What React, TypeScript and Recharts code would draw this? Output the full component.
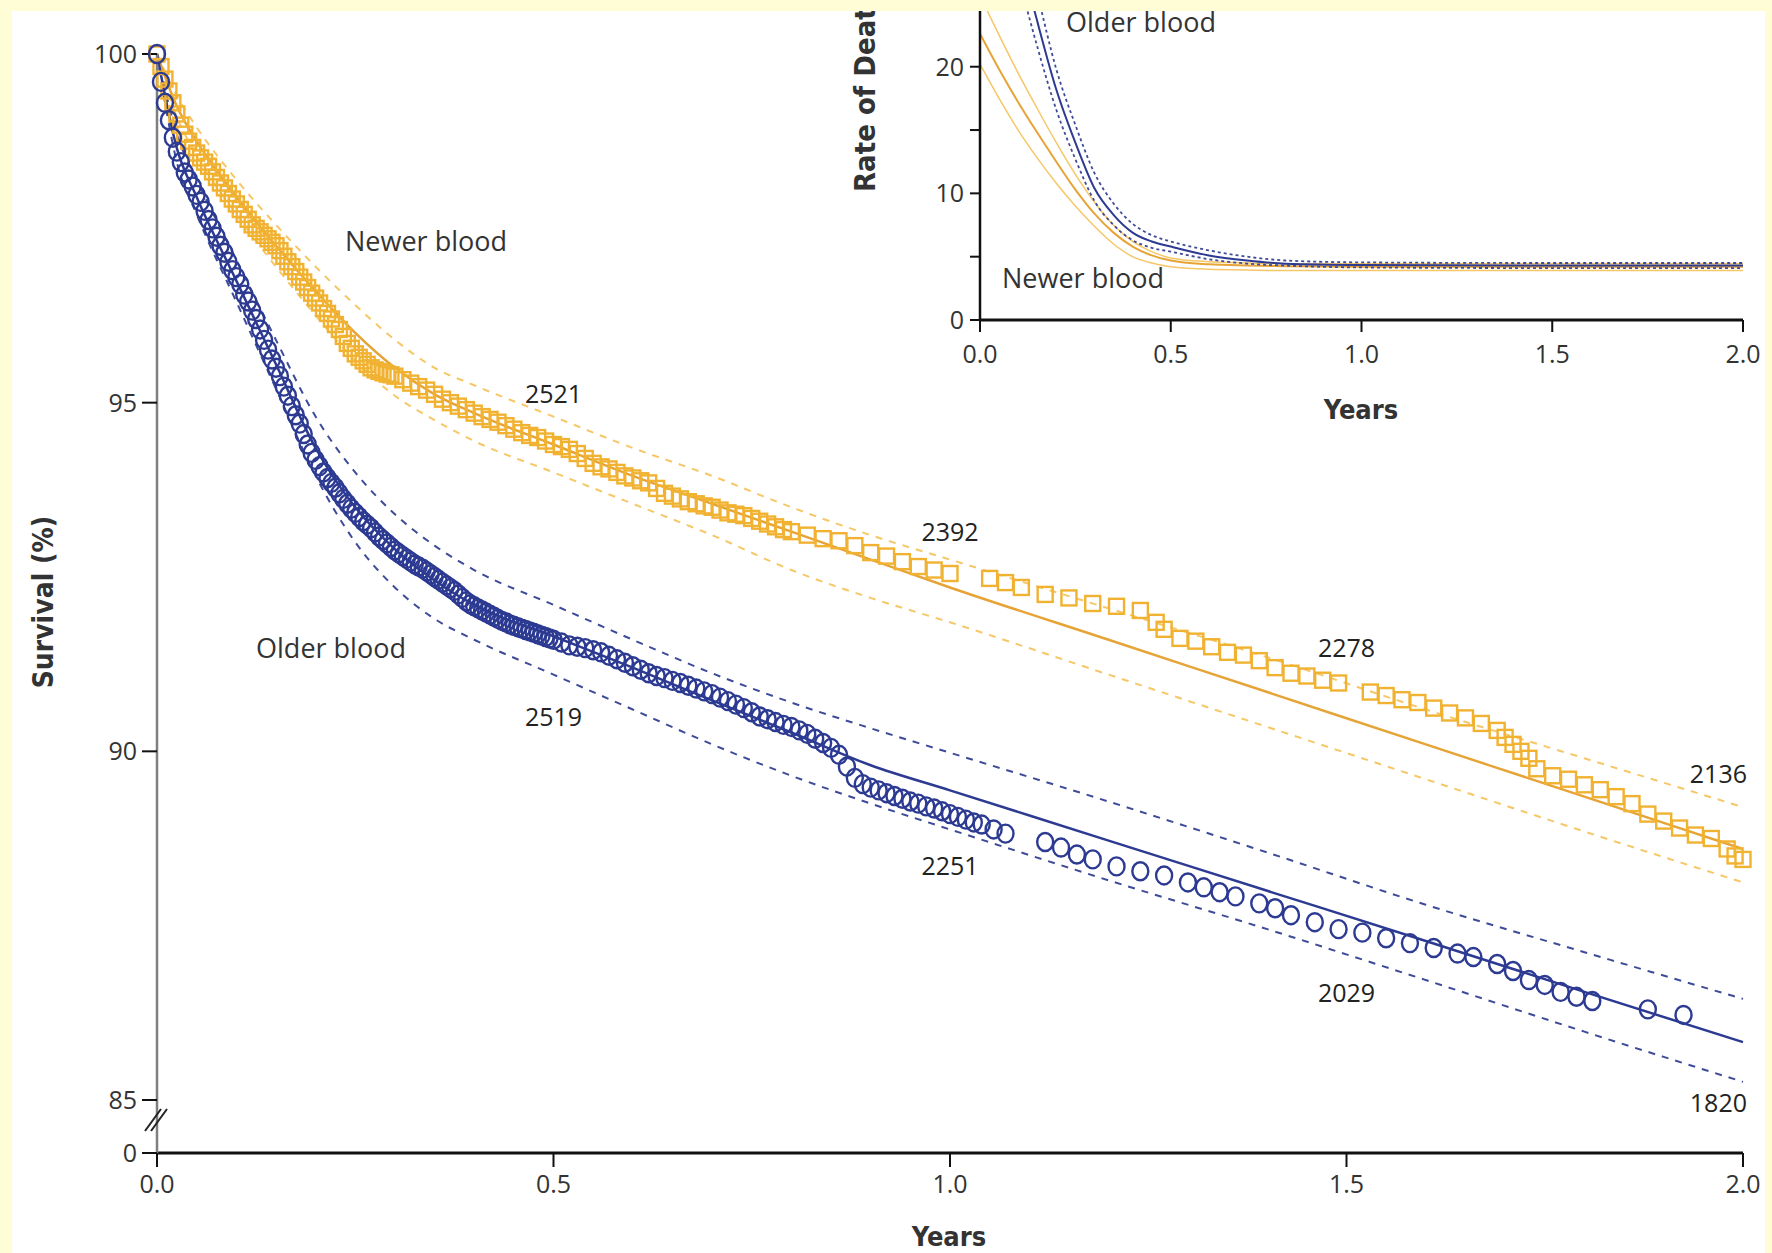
import { ComposedChart, Line, Scatter, XAxis, YAxis } from "recharts";

// ---- main panel: fitted survival curves with 95% bands ----
const fitT = [0, 0.025, 0.05, 0.1, 0.15, 0.2, 0.25, 0.3, 0.35, 0.4, 0.5, 0.6, 0.7, 0.8, 0.9, 1.0, 1.2, 1.4, 1.6, 1.8, 2.0];
const newerFit = [100, 99.25, 98.75, 97.95, 97.25, 96.6, 96.0, 95.5, 95.12, 94.85, 94.4, 93.95, 93.55, 93.15, 92.75, 92.35, 91.6, 90.85, 90.1, 89.35, 88.6];
const newerHigh = [100, 99.4, 98.95, 98.2, 97.55, 96.95, 96.4, 95.9, 95.5, 95.25, 94.8, 94.35, 93.95, 93.5, 93.1, 92.75, 92.05, 91.35, 90.6, 89.9, 89.2];
const newerLow = [100, 99.1, 98.55, 97.7, 96.95, 96.25, 95.6, 95.1, 94.75, 94.45, 94.0, 93.55, 93.1, 92.6, 92.2, 91.85, 91.1, 90.35, 89.6, 88.85, 88.12];
const olderFit = [100, 98.65, 97.95, 96.75, 95.55, 94.35, 93.5, 92.9, 92.45, 92.1, 91.65, 91.2, 90.73, 90.27, 89.8, 89.44, 88.72, 88.0, 87.28, 86.55, 85.83];
const olderHigh = [100, 98.85, 98.2, 97.05, 95.9, 94.8, 94.0, 93.4, 92.95, 92.6, 92.1, 91.6, 91.12, 90.7, 90.33, 89.98, 89.28, 88.55, 87.8, 87.12, 86.45];
const olderLow = [100, 98.45, 97.7, 96.45, 95.2, 93.95, 93.0, 92.35, 91.9, 91.6, 91.1, 90.6, 90.1, 89.65, 89.25, 88.88, 88.15, 87.45, 86.72, 85.98, 85.26];

// Kaplan-Meier estimates (markers)
const newerMarkT = [
  0, 0.005, 0.01, 0.015, 0.02, 0.025, 0.03, 0.035, 0.04, 0.045, 0.05, 0.055, 0.06, 0.065, 0.07, 0.075, 0.08, 0.085, 0.09, 0.095,
  0.1, 0.105, 0.11, 0.115, 0.12, 0.125, 0.13, 0.135, 0.14, 0.145, 0.15, 0.155, 0.16, 0.165, 0.17, 0.175, 0.18, 0.185, 0.19, 0.195,
  0.2, 0.205, 0.21, 0.215, 0.22, 0.225, 0.23, 0.235, 0.24, 0.245, 0.25, 0.255, 0.26, 0.265, 0.27, 0.275, 0.28, 0.285, 0.29, 0.295,
  0.3, 0.31, 0.32, 0.33, 0.34, 0.35, 0.36, 0.37, 0.38, 0.39, 0.4, 0.41, 0.42, 0.43, 0.44, 0.45, 0.46, 0.47, 0.48, 0.49,
  0.5, 0.51, 0.52, 0.53, 0.54, 0.55, 0.56, 0.57, 0.58, 0.59, 0.6, 0.61, 0.62, 0.63, 0.64, 0.65, 0.66, 0.67, 0.68, 0.69,
  0.7, 0.71, 0.72, 0.73, 0.74, 0.75, 0.76, 0.77, 0.78, 0.79, 0.8, 0.82, 0.84, 0.86, 0.88, 0.9, 0.92, 0.94, 0.96, 0.98,
  1.0, 1.05, 1.07, 1.09, 1.12, 1.15, 1.18, 1.21, 1.24, 1.26, 1.27, 1.29, 1.31, 1.33, 1.35, 1.37, 1.39, 1.41, 1.43, 1.45,
  1.47, 1.49, 1.53, 1.55, 1.57, 1.59, 1.61, 1.63, 1.65, 1.67, 1.69, 1.7, 1.71, 1.72, 1.73, 1.74, 1.76, 1.78, 1.8, 1.82,
  1.84, 1.86, 1.88, 1.9, 1.92, 1.94, 1.96, 1.98, 1.99, 2.0,
];
const newerMarkS = [
  100, 99.82, 99.64, 99.47, 99.3, 99.14, 98.98, 98.85, 98.75, 98.66, 98.58, 98.51, 98.45, 98.39, 98.31, 98.23, 98.15, 98.08, 98.0, 97.92,
  97.85, 97.77, 97.7, 97.63, 97.55, 97.5, 97.45, 97.4, 97.35, 97.3, 97.25, 97.18, 97.1, 97.02, 96.95, 96.88, 96.8, 96.73, 96.65, 96.57,
  96.5, 96.43, 96.35, 96.28, 96.2, 96.12, 96.05, 95.95, 95.85, 95.78, 95.7, 95.65, 95.6, 95.55, 95.5, 95.47, 95.45, 95.43, 95.41, 95.4,
  95.38, 95.33, 95.28, 95.23, 95.18, 95.12, 95.05, 95.0, 94.95, 94.9, 94.85, 94.8, 94.76, 94.72, 94.67, 94.62, 94.57, 94.53, 94.5, 94.45,
  94.4, 94.37, 94.33, 94.27, 94.2, 94.13, 94.08, 94.05, 94.0, 93.95, 93.92, 93.88, 93.85, 93.77, 93.7, 93.66, 93.62, 93.58, 93.55, 93.52,
  93.5, 93.46, 93.42, 93.4, 93.38, 93.34, 93.3, 93.26, 93.22, 93.18, 93.15, 93.1, 93.05, 93.02, 92.95, 92.85, 92.8, 92.72, 92.65, 92.6,
  92.55, 92.48, 92.42, 92.35, 92.25, 92.2, 92.12, 92.08, 92.02, 91.85, 91.75, 91.62, 91.58, 91.5, 91.42, 91.38, 91.3, 91.2, 91.12, 91.08,
  91.02, 90.98, 90.85, 90.8, 90.74, 90.7, 90.62, 90.55, 90.48, 90.4, 90.3, 90.2, 90.1, 90.0, 89.9, 89.75, 89.65, 89.6, 89.52, 89.45,
  89.35, 89.25, 89.1, 89.0, 88.9, 88.8, 88.75, 88.6, 88.5, 88.45,
];
const olderMarkT = [
  0, 0.005, 0.01, 0.015, 0.02, 0.025, 0.03, 0.035, 0.04, 0.045, 0.05, 0.055, 0.06, 0.065, 0.07, 0.075, 0.08, 0.085, 0.09, 0.095,
  0.1, 0.105, 0.11, 0.115, 0.12, 0.125, 0.13, 0.135, 0.14, 0.145, 0.15, 0.155, 0.16, 0.165, 0.17, 0.175, 0.18, 0.185, 0.19, 0.195,
  0.2, 0.205, 0.21, 0.215, 0.22, 0.225, 0.23, 0.235, 0.24, 0.245, 0.25, 0.255, 0.26, 0.265, 0.27, 0.275, 0.28, 0.285, 0.29, 0.295,
  0.3, 0.305, 0.31, 0.315, 0.32, 0.325, 0.33, 0.335, 0.34, 0.345, 0.35, 0.355, 0.36, 0.365, 0.37, 0.375, 0.38, 0.385, 0.39, 0.395,
  0.4, 0.405, 0.41, 0.415, 0.42, 0.425, 0.43, 0.435, 0.44, 0.445, 0.45, 0.455, 0.46, 0.465, 0.47, 0.475, 0.48, 0.485, 0.49, 0.495,
  0.5, 0.51, 0.52, 0.53, 0.54, 0.55, 0.56, 0.57, 0.58, 0.59, 0.6, 0.61, 0.62, 0.63, 0.64, 0.65, 0.66, 0.67, 0.68, 0.69,
  0.7, 0.71, 0.72, 0.73, 0.74, 0.75, 0.76, 0.77, 0.78, 0.79, 0.8, 0.81, 0.82, 0.83, 0.84, 0.85, 0.86, 0.87, 0.88, 0.89,
  0.9, 0.91, 0.92, 0.93, 0.94, 0.95, 0.96, 0.97, 0.98, 0.99, 1.0, 1.01, 1.02, 1.03, 1.04, 1.055, 1.07, 1.12, 1.14, 1.16,
  1.18, 1.21, 1.24, 1.27, 1.3, 1.32, 1.34, 1.36, 1.39, 1.41, 1.43, 1.46, 1.49, 1.52, 1.55, 1.58, 1.61, 1.64, 1.66, 1.69,
  1.71, 1.73, 1.75, 1.77, 1.79, 1.81, 1.88, 1.925,
];
const olderMarkS = [
  100, 99.6, 99.3, 99.05, 98.8, 98.6, 98.45, 98.3, 98.2, 98.1, 97.98, 97.88, 97.75, 97.62, 97.5, 97.38, 97.25, 97.15, 97.02, 96.9,
  96.8, 96.7, 96.55, 96.45, 96.32, 96.2, 96.05, 95.9, 95.76, 95.62, 95.5, 95.38, 95.23, 95.1, 94.95, 94.82, 94.7, 94.55, 94.4, 94.28,
  94.18, 94.09, 94.0, 93.92, 93.85, 93.78, 93.7, 93.62, 93.55, 93.48, 93.42, 93.36, 93.3, 93.25, 93.2, 93.14, 93.08, 93.03, 92.98, 92.93,
  92.88, 92.84, 92.8, 92.76, 92.72, 92.68, 92.65, 92.62, 92.58, 92.54, 92.5, 92.46, 92.42, 92.38, 92.34, 92.3, 92.25, 92.2, 92.15, 92.11,
  92.08, 92.05, 92.02, 91.99, 91.96, 91.93, 91.9, 91.87, 91.85, 91.82, 91.8, 91.78, 91.76, 91.74, 91.72, 91.7, 91.68, 91.66, 91.64, 91.62,
  91.6, 91.56, 91.52, 91.5, 91.48, 91.45, 91.42, 91.37, 91.32, 91.27, 91.22, 91.17, 91.12, 91.08, 91.05, 91.01, 90.98, 90.94, 90.9, 90.86,
  90.82, 90.77, 90.72, 90.67, 90.62, 90.56, 90.5, 90.46, 90.42, 90.38, 90.35, 90.3, 90.25, 90.18, 90.12, 90.05, 89.95, 89.78, 89.62, 89.53,
  89.48, 89.44, 89.4, 89.36, 89.32, 89.28, 89.25, 89.21, 89.18, 89.14, 89.1, 89.06, 89.02, 88.98, 88.95, 88.88, 88.82, 88.7, 88.62, 88.52,
  88.45, 88.35, 88.28, 88.22, 88.12, 88.05, 87.98, 87.92, 87.82, 87.75, 87.65, 87.55, 87.45, 87.4, 87.32, 87.25, 87.18, 87.1, 87.05, 86.95,
  86.85, 86.72, 86.65, 86.55, 86.48, 86.42, 86.3, 86.22,
];

// numbers at risk
const riskT = [0.5, 1.0, 1.5, 2.0];
const riskNewer = [2521, 2392, 2278, 2136];
const riskOlder = [2519, 2251, 2029, 1820];

const xTicks = [0, 0.5, 1.0, 1.5, 2.0];
const survTicks = [85, 90, 95, 100];

// ---- inset: rate of death ----
const rateT = [0, 0.05, 0.1, 0.15, 0.2, 0.25, 0.3, 0.35, 0.4, 0.45, 0.5, 0.6, 0.7, 0.8, 1.0, 1.5, 2.0];
const newerRate = [22.6, 19.8, 17.2, 14.8, 12.5, 10.3, 8.4, 6.9, 5.8, 5.1, 4.7, 4.4, 4.3, 4.25, 4.2, 4.2, 4.2];
const newerRateHigh = [25.6, 22.5, 19.5, 16.7, 14.0, 11.5, 9.3, 7.5, 6.2, 5.4, 4.9, 4.6, 4.5, 4.45, 4.45, 4.45, 4.45];
const newerRateLow = [20.2, 17.5, 15.0, 12.8, 10.8, 9.0, 7.4, 6.0, 5.0, 4.5, 4.2, 4.0, 3.95, 3.9, 3.9, 3.9, 3.9];
const olderRate = [44, 36.5, 29.5, 23.6, 18.2, 14.0, 10.4, 8.3, 6.9, 6.2, 5.8, 5.1, 4.7, 4.45, 4.35, 4.3, 4.3];
const olderRateHigh = [47, 39, 32, 25.8, 19.8, 15.4, 11.6, 9.2, 7.6, 6.7, 6.2, 5.5, 5.0, 4.7, 4.55, 4.5, 4.5];
const olderRateLow = [41, 34, 27.3, 21.6, 16.6, 12.7, 9.4, 7.5, 6.3, 5.7, 5.4, 4.8, 4.45, 4.3, 4.15, 4.1, 4.1];
const rateTicks = [0, 5, 10, 15, 20];

const ORANGE = "#F1B232";
const ORANGE_LIGHT = "#F6C766";
const ORANGE_DARK = "#E6A437";
const BLUE = "#2C3A92";
const BLUE_DASH = "#3E4B98";
const YELLOW = "#FEFDD6";
const NUM_FONT = "'Open Sans', 'Noto Sans', sans-serif";
const TITLE_FONT = "'Liberation Sans Narrow', 'DejaVu Sans Condensed', 'Liberation Sans', sans-serif";

const SURV_FLOOR = 84.24; // bottom of broken axis, labelled "0"

const fitRows = fitT.map((t, i) => ({
  t,
  nFit: newerFit[i],
  nHi: newerHigh[i],
  nLo: newerLow[i],
  oFit: olderFit[i],
  oHi: olderHigh[i],
  oLo: olderLow[i],
}));
const newerMarks = newerMarkT.map((t, i) => ({ t, s: newerMarkS[i] }));
const olderMarks = olderMarkT.map((t, i) => ({ t, s: olderMarkS[i] }));
// vertical placement of the at-risk numbers (survival units)
const newerRiskY = [95.14, 93.16, 91.5, 89.69];
const olderRiskY = [90.51, 88.37, 86.55, 84.97];
const riskRows = [
  ...riskT.map((t, i) => ({ t, s: newerRiskY[i], n: riskNewer[i] })),
  ...riskT.map((t, i) => ({ t, s: olderRiskY[i], n: riskOlder[i] })),
];
const rateRows = rateT.map((t, i) => ({
  t,
  nFit: newerRate[i],
  nHi: newerRateHigh[i],
  nLo: newerRateLow[i],
  oFit: olderRate[i],
  oHi: olderRateHigh[i],
  oLo: olderRateLow[i],
}));

const Square = (p: any) => (
  <rect x={p.cx - 7.5} y={p.cy - 7.5} width={15} height={15} fill="none" stroke={ORANGE} strokeWidth={2.4} />
);
const Ring = (p: any) => (
  <ellipse cx={p.cx} cy={p.cy} rx={8} ry={9} fill="none" stroke={BLUE} strokeWidth={2.4} />
);
const RiskLabel = (p: any) => {
  const last = p.payload.t >= 2;
  return (
    <text
      x={p.cx + (last ? 4 : 0)}
      y={p.cy}
      textAnchor={last ? "end" : "middle"}
      dominantBaseline="central"
      fontSize={25}
      fill="#222"
      fontFamily={NUM_FONT}
    >
      {p.payload.n}
    </text>
  );
};

function SurvTick(props: any) {
  const { x, y, payload } = props;
  const isFloor = payload.value < 85;
  const ax = x + 20;
  return (
    <g>
      <text x={x} y={y} dy="0.36em" textAnchor="end" fontSize={25} fill="#333" fontFamily={NUM_FONT}>
        {isFloor ? "0" : payload.value}
      </text>
      {isFloor && (
        <g stroke="#222" strokeWidth={2}>
          <line x1={ax - 12} y1={y - 22} x2={ax + 4} y2={y - 44} />
          <line x1={ax - 6} y1={y - 22} x2={ax + 10} y2={y - 44} />
        </g>
      )}
    </g>
  );
}

const tickStyle = { fill: "#333", fontSize: 25, fontFamily: NUM_FONT };

export default function App() {
  return (
    <div style={{ position: "absolute", left: 0, top: 0, width: 1772, height: 1253, background: "#fff", overflow: "hidden" }}>
      <div style={{ position: "absolute", left: 0, top: 0 }}>
        <ComposedChart width={1772} height={1253} margin={{ top: 54, right: 29, bottom: 0, left: 97 }}>
          <XAxis
            type="number"
            dataKey="t"
            domain={[0, 2]}
            ticks={xTicks}
            interval={0}
            tickFormatter={(v: number) => v.toFixed(1)}
            height={100}
            tickSize={14}
            tickMargin={8}
            axisLine={{ stroke: "#111", strokeWidth: 3 }}
            tickLine={{ stroke: "#111", strokeWidth: 2 }}
            tick={tickStyle}
          />
          <YAxis
            type="number"
            domain={[SURV_FLOOR, 100]}
            ticks={[SURV_FLOOR, ...survTicks]}
            interval={0}
            width={60}
            tickSize={15}
            tickMargin={5}
            axisLine={{ stroke: "#7f7f7f", strokeWidth: 2.5 }}
            tickLine={{ stroke: "#111", strokeWidth: 2 }}
            tick={<SurvTick />}
          />
          <Line data={fitRows} dataKey="nHi" type="monotone" stroke={ORANGE_LIGHT} strokeWidth={2} strokeDasharray="7 7" dot={false} isAnimationActive={false} />
          <Line data={fitRows} dataKey="nLo" type="monotone" stroke={ORANGE_LIGHT} strokeWidth={2} strokeDasharray="7 7" dot={false} isAnimationActive={false} />
          <Line data={fitRows} dataKey="oHi" type="monotone" stroke={BLUE_DASH} strokeWidth={2} strokeDasharray="7 7" dot={false} isAnimationActive={false} />
          <Line data={fitRows} dataKey="oLo" type="monotone" stroke={BLUE_DASH} strokeWidth={2} strokeDasharray="7 7" dot={false} isAnimationActive={false} />
          <Line data={fitRows} dataKey="nFit" type="monotone" stroke={ORANGE_DARK} strokeWidth={2.5} dot={false} isAnimationActive={false} />
          <Line data={fitRows} dataKey="oFit" type="monotone" stroke={BLUE} strokeWidth={2.5} dot={false} isAnimationActive={false} />
          <Scatter data={newerMarks} dataKey="s" shape={Square} isAnimationActive={false} />
          <Scatter data={olderMarks} dataKey="s" shape={Ring} isAnimationActive={false} />
          <Scatter data={riskRows} dataKey="s" shape={RiskLabel} isAnimationActive={false} />
        </ComposedChart>
      </div>

      <div style={{ position: "absolute", left: 880, top: 0 }}>
        <ComposedChart width={892} height={440} data={rateRows} margin={{ top: 11, right: 29, bottom: 0, left: 50 }}>
          <XAxis
            type="number"
            dataKey="t"
            domain={[0, 2]}
            ticks={xTicks}
            interval={0}
            tickFormatter={(v: number) => v.toFixed(1)}
            height={120}
            tickSize={12}
            tickMargin={13}
            axisLine={{ stroke: "#111", strokeWidth: 3 }}
            tickLine={{ stroke: "#111", strokeWidth: 2 }}
            tick={tickStyle}
          />
          <YAxis
            type="number"
            domain={[0, 24.4]}
            allowDataOverflow
            ticks={rateTicks}
            interval={0}
            tickFormatter={(v: number) => (v % 10 === 0 ? String(v) : "")}
            width={50}
            tickSize={10}
            tickMargin={6}
            axisLine={{ stroke: "#111", strokeWidth: 2.5 }}
            tickLine={{ stroke: "#111", strokeWidth: 2 }}
            tick={tickStyle}
          />
          <Line dataKey="nHi" type="monotone" stroke={ORANGE_LIGHT} strokeWidth={1.5} dot={false} isAnimationActive={false} />
          <Line dataKey="nLo" type="monotone" stroke={ORANGE_LIGHT} strokeWidth={1.5} dot={false} isAnimationActive={false} />
          <Line dataKey="nFit" type="monotone" stroke={ORANGE_DARK} strokeWidth={2} dot={false} isAnimationActive={false} />
          <Line dataKey="oHi" type="monotone" stroke={BLUE_DASH} strokeWidth={1.8} strokeDasharray="3 3" dot={false} isAnimationActive={false} />
          <Line dataKey="oLo" type="monotone" stroke={BLUE_DASH} strokeWidth={1.8} strokeDasharray="3 3" dot={false} isAnimationActive={false} />
          <Line dataKey="oFit" type="monotone" stroke={BLUE} strokeWidth={2} dot={false} isAnimationActive={false} />
        </ComposedChart>
      </div>

      <svg width={1772} height={1253} style={{ position: "absolute", left: 0, top: 0, pointerEvents: "none" }}>
        <g fontFamily={NUM_FONT} fontSize={27} fill="#333" textAnchor="middle" dominantBaseline="central">
          <text x={426} y={240}>Newer blood</text>
          <text x={331} y={647}>Older blood</text>
          <text x={1141} y={21}>Older blood</text>
          <text x={1083} y={277}>Newer blood</text>
        </g>
        <g fontFamily={TITLE_FONT} fontWeight="bold" fill="#333">
          <text x={949} y={1246} fontSize={27} textAnchor="middle">Years</text>
          <text x={1361} y={419} fontSize={27} textAnchor="middle">Years</text>
          <text transform="translate(43 602) rotate(-90)" fontSize={28} textAnchor="middle" dominantBaseline="central">Survival (%)</text>
          <text transform="translate(865 192) rotate(-90)" fontSize={29} textAnchor="start" dominantBaseline="central">Rate of Death</text>
        </g>
      </svg>

      <div style={{ position: "absolute", left: 0, top: 0, width: 1772, height: 11, background: YELLOW }} />
      <div style={{ position: "absolute", left: 0, top: 0, width: 12, height: 1253, background: YELLOW }} />
      <div style={{ position: "absolute", left: 1765, top: 0, width: 7, height: 1253, background: YELLOW }} />
    </div>
  );
}
